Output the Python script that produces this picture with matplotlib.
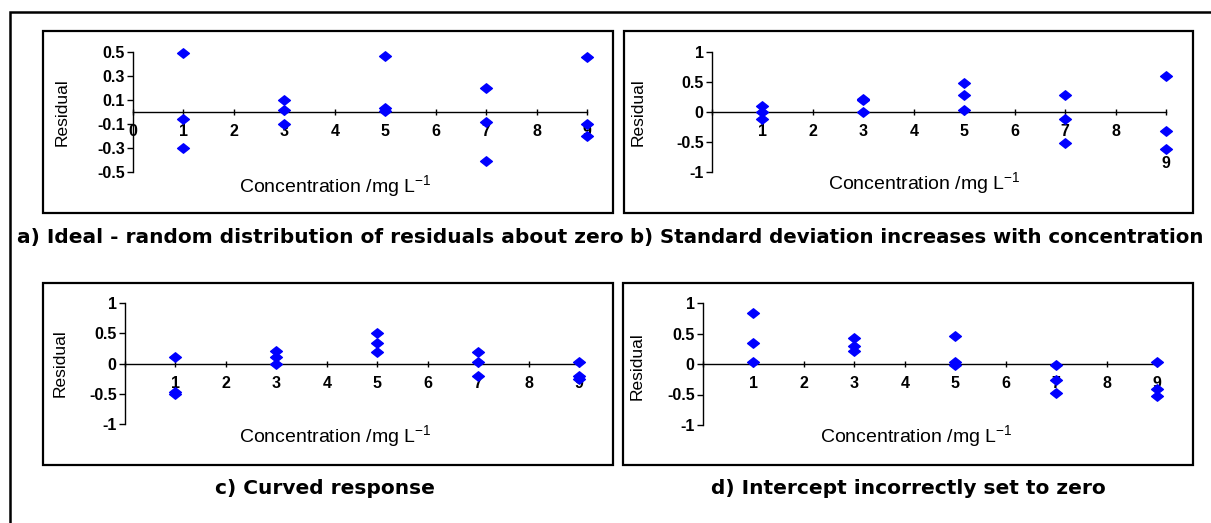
import matplotlib
matplotlib.use("Agg")
import matplotlib.pyplot as plt
from matplotlib.patches import Rectangle
from matplotlib.path import Path

conc = [1, 1, 1, 3, 3, 3, 5, 5, 5, 7, 7, 7, 9, 9, 9]

res_a = [0.49, -0.06, -0.30, 0.10, 0.02, -0.10, 0.47, 0.03, 0.01,
         0.20, -0.08, -0.41, 0.46, -0.10, -0.20]
res_b = [0.10, 0.00, -0.12, 0.22, 0.20, 0.00, 0.49, 0.29, 0.03,
         0.29, -0.12, -0.52, 0.60, -0.32, -0.62]
res_c = [0.10, -0.47, -0.51, 0.20, 0.11, 0.00, 0.50, 0.34, 0.19,
         0.19, 0.03, -0.20, 0.03, -0.20, -0.25]
res_d = [0.84, 0.34, 0.03, 0.43, 0.30, 0.22, 0.46, 0.03, -0.01,
         -0.02, -0.26, -0.47, 0.04, -0.41, -0.53]

yticks_a = [-0.5, -0.3, -0.1, 0.1, 0.3, 0.5]
ylabels_a = ["-0.5", "-0.3", "-0.1", "0.1", "0.3", "0.5"]
yticks_1 = [-1, -0.5, 0, 0.5, 1]
ylabels_1 = ["-1", "-0.5", "0", "0.5", "1"]
xticks = [0, 1, 2, 3, 4, 5, 6, 7, 8, 9]

captions = ["a) Ideal - random distribution of residuals about zero",
            "b) Standard deviation increases with concentration",
            "c) Curved response",
            "d) Intercept incorrectly set to zero"]

W, H = 1211, 523
plt.rcParams["axes.unicode_minus"] = False
plt.rcParams["mathtext.default"] = "regular"

fig = plt.figure(figsize=(W / 100, H / 100), dpi=100)

# wide diamond marker
diamond = Path([(-1, 0), (0, 0.8), (1, 0), (0, -0.8), (-1, 0)],
               [Path.MOVETO, Path.LINETO, Path.LINETO, Path.LINETO, Path.CLOSEPOLY])


def frame(x0, y0, x1, y1, lw=1.6):
    fig.patches.append(Rectangle((x0 / W, 1 - y1 / H), (x1 - x0) / W, (y1 - y0) / H,
                                 transform=fig.transFigure, fill=False,
                                 edgecolor="black", linewidth=lw))


def panel(px, py, values, ylim, yt, yl, xl, label_x, label_y):
    # px = (left, right) pixel of x=0..9, py = (top, bottom) pixel of ylim
    ax = fig.add_axes([px[0] / W, 1 - py[1] / H, (px[1] - px[0]) / W, (py[1] - py[0]) / H])
    ax.set_facecolor("none")
    ax.plot(conc, values, linestyle="none", marker=diamond, markersize=8.5,
            color="#0000ff", clip_on=False, zorder=5)
    ax.set_xlim(0, 9)
    ax.set_ylim(*ylim)
    for s in ["top", "right"]:
        ax.spines[s].set_visible(False)
    ax.spines["bottom"].set_position(("data", 0))
    ax.spines["bottom"].set_linewidth(1.0)
    ax.spines["left"].set_linewidth(1.0)
    ax.set_yticks(yt, yl)
    ax.set_xticks(xticks, xl)
    ax.tick_params(axis="y", direction="out", length=4, width=1, pad=2)
    ax.tick_params(axis="x", direction="inout", length=4, width=1, pad=7)
    for t in ax.get_xticklabels() + ax.get_yticklabels():
        t.set_fontfamily("Liberation Sans")
        t.set_fontweight("bold")
        t.set_fontsize(11.5)
    ax.set_ylabel("Residual", fontsize=12.5, family="Liberation Sans")
    ax.set_xlabel("Concentration /mg L$^{-1}$", fontsize=14, family="Liberation Sans")
    ax.yaxis.set_label_coords(label_y[0] / W, 1 - label_y[1] / H, transform=fig.transFigure)
    ax.xaxis.set_label_coords(label_x[0] / W, 1 - label_x[1] / H, transform=fig.transFigure)
    ax.xaxis.label.set_va("center")
    ax.yaxis.label.set_va("center")
    return ax


xl_a = [str(v) for v in xticks]
xl_bcd = [""] + [str(v) for v in xticks[1:]]
xl_b = [""] + [str(v) for v in xticks[1:-1]] + [""]

panel((133, 587), (52, 172), res_a, (-0.5, 0.5), yticks_a, ylabels_a, xl_a, (335, 186), (62, 112))
ax_b = panel((712, 1166), (52, 172), res_b, (-1, 1), yticks_1, ylabels_1, xl_b, (924, 183), (638, 112))
ax_b.text(9, -0.85, "9", ha="center", va="center", fontsize=11.5, fontweight="bold",
          family="Liberation Sans")
panel((125, 579), (303, 424), res_c, (-1, 1), yticks_1, ylabels_1, xl_bcd, (335, 436), (60, 363))
panel((703, 1157), (303, 425), res_d, (-1, 1), yticks_1, ylabels_1, xl_bcd, (916, 436), (637, 366))

# boxes round each chart and the outer frame
frame(43, 31, 613, 213)
frame(624, 31, 1193, 213)
frame(43, 283, 613, 465)
frame(623, 283, 1193, 465)
frame(10, 12, 1260, 600, lw=1.8)

cap_kw = dict(fontweight="bold", family="DejaVu Sans", va="center")
fig.text(320 / W, 1 - 237 / H, captions[0], ha="center", fontsize=14.5, **cap_kw)
fig.text(630 / W, 1 - 237 / H, captions[1], ha="left", fontsize=14.2, **cap_kw)
fig.text(325 / W, 1 - 488 / H, captions[2], ha="center", fontsize=14.5, **cap_kw)
fig.text(908 / W, 1 - 488 / H, captions[3], ha="center", fontsize=14.5, **cap_kw)

fig.savefig("out.png", dpi=100)
